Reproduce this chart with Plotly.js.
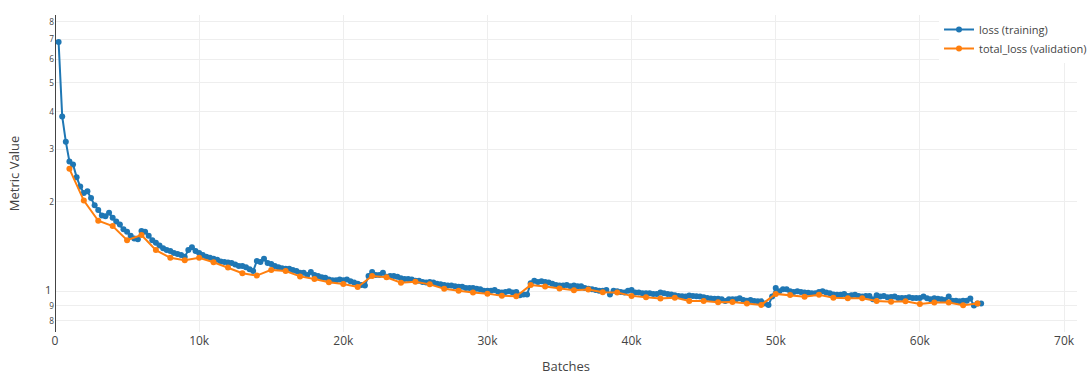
<!DOCTYPE html>
<html>
<head>
<meta charset="utf-8">
<script src="https://cdn.plot.ly/plotly-3.0.1.min.js"></script>
<style>
  html, body { margin: 0; padding: 0; background: #fff; }
  #chart { width: 1090px; height: 375px; }
</style>
</head>
<body>
<div id="chart"></div>
<script>
// Training loss, logged every 250 batches (starting at batch 250)
const trainStep = 250;
const trainLoss = [
  6.85, 3.86, 3.18, 2.73, 2.67, 2.42,
  2.25, 2.14, 2.17, 2.06, 1.95, 1.88,
  1.80, 1.79, 1.84, 1.77,
  1.72, 1.68, 1.62, 1.59,
  1.54, 1.51, 1.50, 1.60,
  1.59, 1.54, 1.49, 1.46,
  1.43, 1.40, 1.38, 1.37,
  1.35, 1.34, 1.33, 1.31,
  1.38, 1.41, 1.37, 1.35,
  1.33, 1.31, 1.30, 1.29,
  1.28, 1.265, 1.26, 1.255,
  1.25, 1.235, 1.22, 1.22,
  1.21, 1.19, 1.175, 1.27,
  1.26, 1.29, 1.25, 1.24,
  1.22, 1.21, 1.20, 1.195,
  1.195, 1.185, 1.175, 1.16,
  1.16, 1.14, 1.165, 1.14,
  1.13, 1.12, 1.115, 1.10,
  1.095, 1.095, 1.10, 1.095,
  1.10, 1.085, 1.075, 1.065,
  1.055, 1.05, 1.13, 1.165,
  1.14, 1.14, 1.16, 1.125,
  1.13, 1.13, 1.125, 1.11,
  1.105, 1.105, 1.10, 1.09,
  1.09, 1.08, 1.075, 1.08,
  1.075, 1.065, 1.06, 1.055,
  1.05, 1.05, 1.045, 1.04,
  1.04, 1.03, 1.03, 1.03,
  1.025, 1.02, 1.01, 1.01,
  1.01, 1.015, 1.0, 0.995,
  1.0, 1.005, 0.995, 1.0,
  0.975, 0.98, 0.98, 1.07,
  1.09, 1.08, 1.085, 1.08,
  1.075, 1.065, 1.055, 1.05,
  1.05, 1.055, 1.045, 1.05,
  1.045, 1.045, 1.03, 1.025,
  1.02, 1.015, 1.01, 1.01,
  1.015, 0.98, 1.01, 1.005,
  1.0, 0.995, 1.01, 1.015,
  0.995, 0.995, 0.99, 0.99,
  0.99, 0.985, 0.985, 0.995,
  0.99, 0.985, 0.98, 0.975,
  0.97, 0.968, 0.965, 0.972,
  0.97, 0.968, 0.965, 0.96,
  0.955, 0.95, 0.948, 0.948,
  0.945, 0.932, 0.945, 0.945,
  0.945, 0.952, 0.94, 0.935,
  0.94, 0.932, 0.93, 0.93,
  0.915, 0.905, 0.965, 1.03,
  1.005, 1.02, 1.02, 1.005,
  1.0, 1.005, 1.0, 0.995,
  0.993, 0.99, 0.99, 1.0,
  1.005, 0.995, 0.99, 0.98,
  0.978, 0.978, 0.985, 0.97,
  0.975, 0.978, 0.97, 0.965,
  0.97, 0.97, 0.945, 0.975,
  0.965, 0.97, 0.96, 0.962,
  0.965, 0.955, 0.955, 0.955,
  0.96, 0.955, 0.955, 0.955,
  0.965, 0.953, 0.945, 0.952,
  0.948, 0.945, 0.94, 0.965,
  0.935, 0.935, 0.93, 0.935,
  0.935, 0.95, 0.90, 0.915,
  0.915
];
const trainBatches = trainLoss.map((_, i) => (i + 1) * trainStep);

// Validation total loss, evaluated every 1000 batches
const valStep = 1000;
const valLoss = [
  2.58, 2.02, 1.73, 1.66, 1.49, 1.55, 1.38, 1.30, 1.276, 1.30,
  1.257, 1.206, 1.155, 1.134, 1.185, 1.174, 1.127, 1.105, 1.078, 1.062,
  1.039, 1.131, 1.12, 1.073, 1.082, 1.06, 1.025, 1.009, 0.995, 0.987,
  0.971, 0.967, 1.054, 1.043, 1.027, 1.013, 1.018, 0.998, 0.996, 0.970,
  0.959, 0.951, 0.957, 0.933, 0.932, 0.924, 0.925, 0.915, 0.905, 0.985,
  0.976, 0.963, 0.979, 0.956, 0.953, 0.953, 0.933, 0.927, 0.930, 0.912,
  0.921, 0.922, 0.903, 0.915
];
const valBatches = valLoss.map((_, i) => (i + 1) * valStep);

const seriesNames = ['loss (training)', 'total_loss (validation)'];
const xTitle = 'Batches';
const yTitle = 'Metric Value';

const traces = [
  {
    x: trainBatches, y: trainLoss, name: seriesNames[0],
    type: 'scatter', mode: 'lines+markers',
    line: { color: '#1f77b4', width: 2 },
    marker: { color: '#1f77b4', size: 6 }
  },
  {
    x: valBatches, y: valLoss, name: seriesNames[1],
    type: 'scatter', mode: 'lines+markers',
    line: { color: '#ff7f0e', width: 2 },
    marker: { color: '#ff7f0e', size: 6 }
  }
];

const layout = {
  width: 1090, height: 375,
  // fixed margins: the legend may overhang the right edge of the plot area
  margin: { l: 55, r: 13, t: 15, b: 43, autoexpand: false },
  paper_bgcolor: '#fff', plot_bgcolor: '#fff',
  font: { family: '"Open Sans", sans-serif', size: 12, color: '#444' },
  showlegend: true,
  legend: {
    x: 0.865, xanchor: 'left', y: 1, yanchor: 'top',
    bgcolor: 'rgba(255,255,255,1)', font: { size: 11 }
  },
  xaxis: {
    title: { text: xTitle, font: { size: 13 } },
    range: [0, 70900], dtick: 10000, tick0: 0,
    gridcolor: '#eee', zeroline: true, zerolinecolor: '#444', zerolinewidth: 1,
    tickfont: { size: 12 }
  },
  yaxis: {
    title: { text: yTitle, font: { size: 13 } },
    type: 'log', range: [-0.134, 0.926], dtick: 'D1',
    gridcolor: '#eee', tickfont: { size: 11 }
  }
};

Plotly.newPlot('chart', traces, layout, { displayModeBar: false, staticPlot: true });
</script>
</body>
</html>
